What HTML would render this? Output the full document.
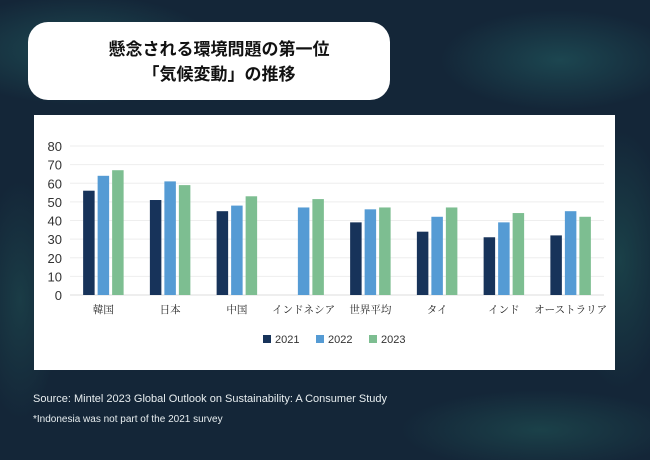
<!DOCTYPE html>
<html style="width:650px;height:460px;overflow:hidden"><head><meta charset="utf-8"><style>
html,body{margin:0;padding:0}
body{width:650px;height:460px;overflow:hidden;position:relative;font-family:"Liberation Sans","Noto Sans CJK JP",sans-serif;
background:
radial-gradient(ellipse 140px 55px at 80px 50px,#1d4a52 0%,rgba(29,74,82,0) 100%),
radial-gradient(ellipse 120px 50px at 560px 60px,#1c4650 0%,rgba(28,70,80,0) 100%),
radial-gradient(ellipse 50px 130px at 620px 260px,#1a4048 0%,rgba(26,64,72,0) 100%),
radial-gradient(ellipse 140px 40px at 540px 430px,#1b4149 0%,rgba(27,65,73,0) 100%),
radial-gradient(ellipse 40px 120px at 20px 300px,#1a3c46 0%,rgba(26,60,70,0) 100%),
#142638}
svg{display:block}
.title{position:absolute;left:28px;top:22px;width:362px;height:78px;background:#fff;border-radius:20px;text-align:center;font-weight:bold;font-size:17px;line-height:25px;color:#111;box-sizing:border-box;padding-top:15px;padding-left:20px}
.card{position:absolute;left:34px;top:115px;width:581px;height:255px;background:#fff}
.foot{position:absolute;left:33px;color:#e8eef0;font-size:11px;line-height:13px;white-space:nowrap}
</style></head><body>
<div class="title">懸念される環境問題の第一位<br>「気候変動」の推移</div>
<div class="card">
<svg id="chart" width="581" height="255"></svg>
</div>
<div class="foot" style="top:393px">Source: Mintel 2023 Global Outlook on Sustainability: A Consumer Study</div>
<div class="foot" style="top:413px;font-size:10px">*Indonesia was not part of the 2021 survey</div>
<script>
const categories=["韓国","日本","中国","インドネシア","世界平均","タイ","インド","オーストラリア"];
const years=["2021","2022","2023"];
const s2021=[56,51,45,null,39,34,31,32];
const s2022=[64,61,48,47,46,42,39,45];
const s2023=[67,59,53,51.5,47,47,44,42];
const yTicks=[0,10,20,30,40,50,60,70,80];
const colors=["#17335a","#559bd4","#7dbe91"];
const svg=document.getElementById('chart');const NS="http://www.w3.org/2000/svg";
const OX=34,OY=115;
const x0=70-OX,x1=604-OX,y0=295-OY,y1=146-OY,ymax=80;
const gw=(x1-x0)/categories.length;
const y=v=>y0-(v/ymax)*(y0-y1);
const gx=i=>x0+gw*i+gw/2;
function mk(t,a,txt){const e=document.createElementNS(NS,t);for(const k in a)e.setAttribute(k,a[k]);if(txt!=null)e.textContent=txt;svg.appendChild(e);return e;}
yTicks.forEach(t=>{
 const l=mk('line',{x1:x0,x2:x1,y1:y(t),y2:y(t),stroke:t?'#eeeeee':'#dddddd'});
 
 
 const tx=mk('text',{x:62-OX,y:y(t)+5,'text-anchor':'end','font-size':13,fill:'#333'},t);
 
 
});
const series=[s2021,s2022,s2023];const bw=11.5,step=14.5;
categories.forEach((c,i)=>{
 series.forEach((s,j)=>{
  if(s[i]==null)return;
  const r=mk('rect',{x:gx(i)+(j-1)*step-bw/2,y:y(s[i]),width:bw,height:y0-y(s[i]),fill:colors[j]});
  
  
 });
 const t=mk('text',{x:gx(i),y:313-OY,'text-anchor':'middle','font-size':10.5,fill:'#222','font-family':'"Noto Serif CJK SC",serif'},c);
 
 
});
years.forEach((yr,j)=>{
 const lx=263+j*53-OX;
 const r=mk('rect',{x:lx,y:335-OY,width:8,height:8,fill:colors[j]});
 
 
 const t=mk('text',{x:lx+12,y:343-OY,'font-size':11,fill:'#333'},yr);
 
 
});
</script>
</body></html>
